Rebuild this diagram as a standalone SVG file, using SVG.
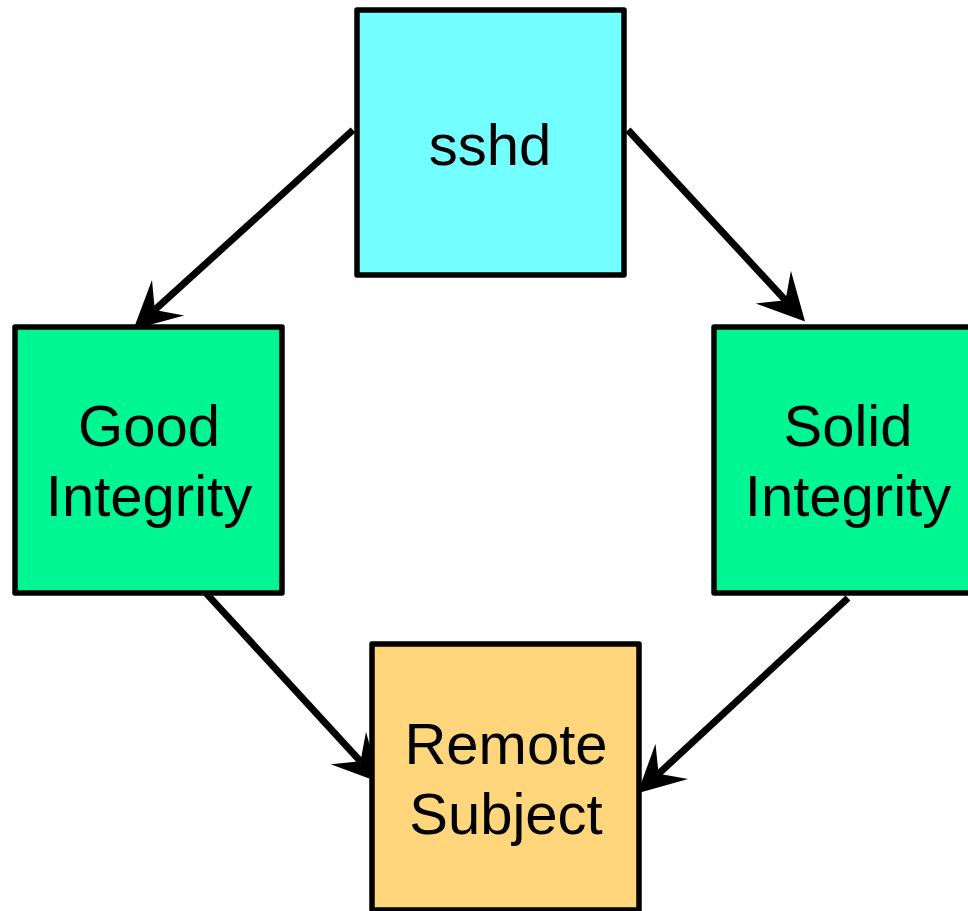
<svg xmlns="http://www.w3.org/2000/svg" width="968" height="911" viewBox="0 0 968 911">
<style>
.box{stroke:#000;stroke-width:5.5;stroke-linejoin:round}
.lbl{font-family:"Liberation Sans",Arial,sans-serif;font-size:58px;fill:#000;text-anchor:middle}
.edge{stroke:#000;stroke-width:7;fill:none}
</style>
<defs>
<marker id="ah" markerUnits="userSpaceOnUse" markerWidth="60" markerHeight="60" refX="0" refY="0" viewBox="-20 -25 50 50" orient="auto" overflow="visible">
<path d="M24,0 L-15,-20 L0,0 L-15,20 Z" fill="#000"/>
</marker>
</defs>
<rect width="968" height="911" fill="#fff"/>
<g id="edges">
<line class="edge" x1="353" y1="130" x2="154.8" y2="309.9" marker-end="url(#ah)"/>
<line class="edge" x1="628" y1="130" x2="785.5" y2="300.3" marker-end="url(#ah)"/>
<line class="edge" x1="205" y1="592" x2="360.5" y2="761.3" marker-end="url(#ah)"/>
<line class="edge" x1="848" y1="598" x2="658.6" y2="773.7" marker-end="url(#ah)"/>
</g>
<g id="sshd">
<rect class="box" x="357" y="10" width="267" height="265" fill="#73FFFF"/>
<text class="lbl" x="490" y="165">sshd</text>
</g>
<g id="good">
<rect class="box" x="15" y="327" width="267" height="266" fill="#00F593"/>
<text class="lbl" x="149" y="446">Good</text>
<text class="lbl" x="149" y="516">Integrity</text>
</g>
<g id="solid">
<rect class="box" x="714" y="327" width="268" height="266" fill="#00F593"/>
<text class="lbl" x="848" y="446">Solid</text>
<text class="lbl" x="848" y="516">Integrity</text>
</g>
<g id="remote">
<rect class="box" x="372" y="644" width="267" height="266" fill="#FFD67C"/>
<text class="lbl" x="506" y="764">Remote</text>
<text class="lbl" x="506" y="834">Subject</text>
</g>
</svg>
